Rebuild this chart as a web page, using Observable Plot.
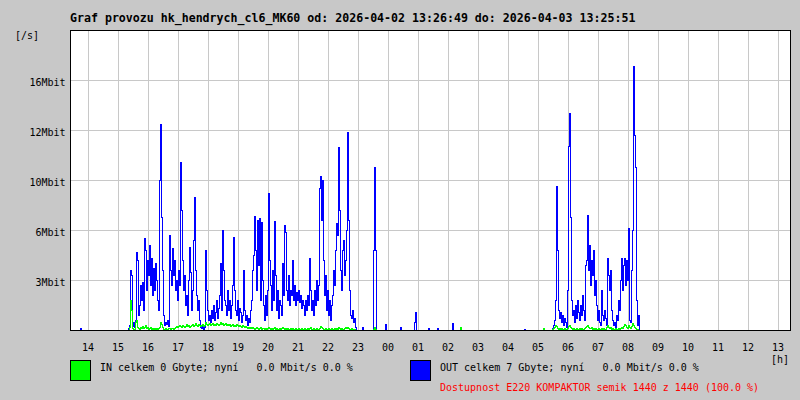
<!DOCTYPE html>
<html><head><meta charset="utf-8">
<script src="https://cdn.jsdelivr.net/npm/d3@7"></script>
<script src="https://cdn.jsdelivr.net/npm/@observablehq/plot@0.6"></script>
<style>
html,body{margin:0;padding:0;background:#c8c8c8;}
#wrap{position:relative;width:800px;height:400px;overflow:hidden;font-family:"DejaVu Sans Mono",monospace;}
#chart{position:absolute;left:0;top:0;}
.t{position:absolute;white-space:pre;font-size:10px;line-height:10px;color:#000;}
.title{font-weight:bold;font-size:11.6px;line-height:12px;}
.sw{position:absolute;width:19px;height:19px;border:1px solid #000;}
</style></head><body>
<div id="wrap">
  <div id="chart"></div>
  <div class="t title" style="left:70px;top:12px">Graf provozu hk_hendrych_cl6_MK60 od: 2026-04-02 13:26:49 do: 2026-04-03 13:25:51</div>
  <div class="t" style="left:15px;top:30.5px">[/s]</div>
  <div class="t" style="left:771px;top:355.5px;line-height:8px">[h]</div>
  <div class="sw" style="left:70px;top:360px;background:#00ff00"></div>
  <div class="t" style="left:100px;top:362.5px">IN celkem 0 Gbyte; nyní   0.0 Mbit/s 0.0 %</div>
  <div class="sw" style="left:410px;top:360px;background:#0000ff"></div>
  <div class="t" style="left:440px;top:362.5px">OUT celkem 7 Gbyte; nyní   0.0 Mbit/s 0.0 %</div>
  <div class="t" style="left:440px;top:382.5px;color:#ff0000">Dostupnost E220 KOMPAKTOR semik 1440 z 1440 (100.0 %)</div>
</div>
<script>
// time: minutes since 00:00 of the first day; one sample every 2 minutes, 720 samples
const startMin = 806;      // 13:26
const stepMin = 2;
const nSamples = 720;

// hour ticks (minutes) and their labels
const hourTicks = [840,900,960,1020,1080,1140,1200,1260,1320,1380,1440,1500,1560,1620,1680,1740,1800,1860,1920,1980,2040,2100,2160,2220];
const hourLabels = ["14","15","16","17","18","19","20","21","22","23","00","01","02","03","04","05","06","07","08","09","10","11","12","13"];

// y ticks (Mbit/s) and labels
const yTicks = [3.3, 6.6, 9.9, 13.2, 16.5];
const yLabels = ["3Mbit","6Mbit","10Mbit","12Mbit","16Mbit"];

// OUT (Mbit/s) — first busy period, starting at sample 56
const outAStart = 56;
const outA = [0,0,0.13,0.33,3.96,3.63,0.26,0.53,0.2,0.66,
 5.15,4.62,0.99,1.65,2.97,1.98,3.17,1.32,6.07,5.28,
 2.64,4.62,3.63,5.61,2.97,4.75,2.31,4.09,2.64,4.42,
 3.3,1.98,1.32,9.9,13.6,7.46,3.96,0.99,0.33,0.53,
 0.4,0.66,0.26,6.27,3.96,2.97,5.41,3.63,4.62,2.64,
 3.3,1.98,3.96,2.97,11.09,7.92,4.62,2.64,3.63,1.65,
 2.31,0.99,3.3,5.48,3.83,1.32,2.64,5.94,8.78,3.96,
 2.31,1.32,1.98,0.66,0.2,0.13,0.26,0.07,0.2,5.28,
 2.64,1.32,0.66,0.99,0.53,1.32,0.79,1.65,0.66,1.19,
 1.98,0.79,1.45,2.31,4.42,1.32,6.6,3.96,1.98,1.65,
 0.99,2.64,1.32,1.98,0.79,1.65,2.97,6.14,2.64,1.32,
 0.99,1.98,0.66,1.45,1.19,0.53,0.99,3.96,1.32,0.66,
 0.99,0.33,0.79,0.53,1.32,1.98,3.96,4.95,7.52,5.28,
 2.64,7.26,4.29,7.39,1.98,7.13,3.3,1.65,0.66,2.31,
 0.99,2.64,9.04,4.62,2.97,1.32,3.96,1.98,7.19,3.63,
 1.32,2.64,0.79,1.98,1.65,0.99,4.42,2.31,6.93,6.47,
 2.64,1.98,3.63,1.65,2.64,2.31,4.62,1.98,2.97,1.65,
 2.51,1.98,2.64,1.85,2.31,1.45,1.98,1.65,0.99,1.98,
 1.32,2.31,1.65,4.75,2.64,1.32,1.98,0.99,2.64,1.65,
 3.3,1.98,2.97,9.37,10.16,7.26,9.9,4.62,2.31,3.63,
 1.32,2.64,0.99,1.98,0.66,1.65,2.31,3.96,2.97,5.28,
 7.06,6.27,12.08,7.92,3.96,2.64,5.28,5.94,3.63,4.62,
 6.6,13.07,7.26,2.64,0.99,0.79,1.32,0.53,0.79,0.2,
 0,0,0,0,0,0,0.2,0,0,0,
 0,0,0,0,0,0,0,5.28,10.76,5.28,
 0];

// OUT — second busy period, starting at sample 480
const outBStart = 480;
const outB = [0,0,0.13,0.33,0.66,1.98,9.5,5.28,1.32,0.79,
 1.19,0.53,0.99,0.33,0.79,0.53,0.2,2.64,12.14,14.32,
 7.46,1.98,0.99,1.32,0.53,1.65,0.79,1.98,1.19,0.66,
 1.65,0.99,2.31,1.32,0.66,4.29,4.62,7.59,3.96,5.61,
 2.97,4.62,3.63,5.28,2.31,3.3,1.65,0.66,1.32,0.53,
 0.33,2.64,0.99,0.66,1.32,0.79,0.33,4.75,3.63,2.64,
 3.96,1.32,0.66,0.33,0.53,0.2,0.99,0.66,1.98,1.32,
 3.3,4.75,2.64,4.29,4.75,2.97,4.62,3.3,6.73,0.66,
 0.53,3.96,6.6,17.42,12.87,10.76,1.98,0.33,0.99,0];

// OUT — isolated small spikes [sample, Mbit/s]
const outSpikes = [[10,0.13],[315,0.4],[330,0.2],[344,0.53],[345,1.19],[358,0.13],[367,0.13],[382,0.46],[454,0.07]];

// IN (Mbit/s) — first busy period, starting at sample 56
const inA = [0,0,0,0.2,1.98,1.32,0.13,0,0.07,0.53,
 0.66,0.2,0.13,0.07,0.2,0.13,0.26,0.13,0.2,0.33,
 0.13,0.2,0.07,0.13,0.2,0.07,0.13,0.07,0.13,0.07,
 0.13,0.07,0.13,0.2,0.53,0.4,0.2,0.07,0.07,0.13,
 0.07,0.07,0.13,0.13,0.07,0.13,0.13,0.07,0.13,0.2,
 0.26,0.2,0.26,0.33,0.26,0.2,0.33,0.26,0.2,0.26,
 0.4,0.26,0.33,0.2,0.26,0.33,0.4,0.26,0.33,0.46,
 0.33,0.26,0.4,0.33,0.26,0.33,0.4,0.26,0.33,0.53,
 0.4,0.33,0.4,0.46,0.33,0.4,0.46,0.33,0.4,0.33,
 0.46,0.4,0.33,0.4,0.53,0.4,0.46,0.33,0.4,0.46,
 0.33,0.4,0.33,0.4,0.26,0.33,0.4,0.26,0.33,0.26,
 0.4,0.33,0.26,0.33,0.26,0.2,0.33,0.26,0.2,0.26,
 0.2,0.13,0.2,0.13,0.2,0.13,0.2,0.13,0.07,0.13,
 0.2,0.13,0.07,0.13,0.2,0.07,0.13,0.13,0.07,0.13,
 0.07,0.13,0.2,0.13,0.07,0.13,0.07,0.13,0.2,0.07,
 0.13,0.07,0.07,0.13,0.07,0.13,0.2,0.13,0.07,0.13,
 0.07,0.13,0.07,0.07,0.13,0.07,0.13,0.07,0.07,0.13,
 0.07,0.07,0.13,0.07,0.07,0.13,0.07,0.07,0.13,0.07,
 0.07,0.13,0.07,0.13,0.2,0.07,0.07,0.13,0.07,0.07,
 0.13,0.07,0.07,0.13,0.26,0.2,0.13,0.07,0.07,0.13,
 0.07,0.07,0.13,0.07,0.07,0.13,0.07,0.07,0.13,0.07,
 0.13,0.07,0.2,0.13,0.07,0.13,0.07,0.07,0.13,0.2,
 0.13,0.2,0.13,0.07,0.07,0.13,0.07,0.07,0.07,0,
 0,0,0,0,0,0,0,0,0,0,
 0,0,0,0,0,0,0,0.07,0.2,0.07,
 0];

// IN — second busy period, starting at sample 480
const inB = [0,0,0.07,0.13,0.2,0.33,0.26,0.13,0.07,0.13,
 0.07,0.13,0.07,0.07,0.13,0.07,0.07,0.13,0.26,0.33,
 0.2,0.13,0.07,0.13,0.07,0.07,0.13,0.07,0.07,0.13,
 0.07,0.13,0.07,0.07,0.13,0.2,0.26,0.33,0.2,0.13,
 0.13,0.2,0.07,0.13,0.07,0.13,0.07,0.07,0.13,0.07,
 0.07,0.13,0.07,0.13,0.07,0.07,0.2,0.33,0.2,0.13,
 0.2,0.07,0.13,0.07,0.07,0.13,0.07,0.07,0.13,0.07,
 0.13,0.2,0.13,0.26,0.4,0.33,0.2,0.13,0.33,0.2,
 0.13,0.26,0.46,0.33,0.2,0.13,0.07,0.07,0,0];

const inSpikes = [[390,0.2],[473,0.13]];

function buildSeries(segments, spikes) {
  const s = new Array(nSamples).fill(0);
  for (const [start, vals] of segments) vals.forEach((v, k) => { s[start + k] = v; });
  for (const [i, v] of spikes) s[i] = v;
  return s.map((v, i) => ({t: startMin + i * stepMin, v}));
}
const outRows = buildSeries([[outAStart, outA], [outBStart, outB]], outSpikes);
const inRows = buildSeries([[outAStart, inA], [outBStart, inB]], inSpikes);

const chart = Plot.plot({
  width: 800, height: 400,
  marginLeft: 70, marginRight: 10, marginTop: 30, marginBottom: 70,
  style: {background: "transparent", fontFamily: "DejaVu Sans Mono, monospace", fontSize: "10px", color: "#000", overflow: "visible"},
  x: {type: "linear", domain: [startMin - 1, startMin - 1 + nSamples * stepMin]},
  y: {domain: [0, 19.8]},
  marks: [
    Plot.frame({fill: "white", stroke: "none"}),
    Plot.gridX(hourTicks, {stroke: "#c8c8c8", strokeOpacity: 1}),
    Plot.gridY(yTicks, {stroke: "#c8c8c8", strokeOpacity: 1}),
    Plot.line(outRows, {x: "t", y: "v", stroke: "#0000ff", strokeWidth: 1.2, curve: "step"}),
    Plot.line(inRows, {x: "t", y: "v", stroke: "#00ff00", strokeWidth: 1, curve: "step"}),
    Plot.frame({stroke: "black"}),
    Plot.axisX(hourTicks, {tickSize: 0, tickPadding: 13, label: null, tickFormat: d => hourLabels[hourTicks.indexOf(d)], fill: "black"}),
    Plot.axisY(yTicks, {tickSize: 0, tickPadding: 5, label: null, dy: 2, tickFormat: d => yLabels[yTicks.indexOf(d)], fill: "black"})
  ]
});
chart.querySelectorAll("path, line, rect").forEach(el => el.setAttribute("shape-rendering", "crispEdges"));
document.getElementById("chart").appendChild(chart);
</script>
</body></html>
